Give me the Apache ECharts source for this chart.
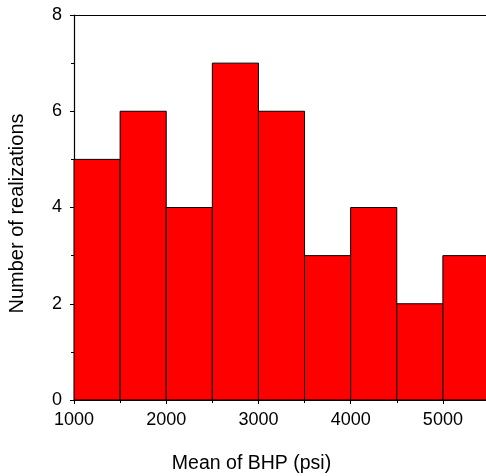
<!DOCTYPE html>
<html>
<head>
<meta charset="utf-8">
<script src="https://cdn.jsdelivr.net/npm/echarts@6/dist/echarts.min.js"></script>
<style>
  html, body { margin: 0; padding: 0; background: #fff; }
  #chart { width: 486px; height: 476px; }
</style>
</head>
<body>
<div id="chart"></div>
<script>
// Histogram bins (psi) and counts
const binStarts = [1000, 1500, 2000, 2500, 3000, 3500, 4000, 4500, 5000];
const binWidth = 500;
const counts = [5, 6, 4, 7, 6, 3, 4, 2, 3];
const xTicks = [1000, 2000, 3000, 4000, 5000];
const yTicks = [0, 2, 4, 6, 8];

const font = 'Liberation Sans, Arial, sans-serif';
const chart = echarts.init(document.getElementById('chart'));

const data = binStarts.map((s, i) => [s, s + binWidth, counts[i]]);

chart.setOption({
  animation: false,
  grid: { left: 74, right: -3, top: 15, bottom: 76, outerBoundsMode: 'none', containLabel: false },
  xAxis: [{
    type: 'value',
    min: 1000,
    max: 5500,
    interval: 1000,
    axisLine: { lineStyle: { color: '#000', width: 1.2 } },
    axisTick: { show: true, length: 4, lineStyle: { color: '#000' } },
    minorTick: { show: true, splitNumber: 2, length: 3, lineStyle: { color: '#000' } },
    splitLine: { show: false },
    axisLabel: {
      color: '#000', fontFamily: font, fontSize: 18, margin: 11,
      formatter: v => (xTicks.includes(v) ? String(v) : '')
    },
    name: 'Mean of BHP (psi)',
    nameLocation: 'middle',
    nameGap: 54,
    nameTextStyle: { color: '#000', fontFamily: font, fontSize: 19.5, padding: [0, 60, 0, 0] }
  }, {
    type: 'value',
    position: 'top',
    min: 1000,
    max: 5500,
    axisLine: { show: true, lineStyle: { color: '#000', width: 1.2 } },
    axisTick: { show: false },
    axisLabel: { show: false },
    splitLine: { show: false }
  }],
  yAxis: {
    type: 'value',
    min: 0,
    max: 8,
    interval: 2,
    axisLine: { show: true, lineStyle: { color: '#000', width: 1.2 } },
    axisTick: { show: true, length: 4, lineStyle: { color: '#000' } },
    minorTick: { show: true, splitNumber: 2, length: 3, lineStyle: { color: '#000' } },
    splitLine: { show: false },
    axisLabel: {
      color: '#000', fontFamily: font, fontSize: 18, margin: 12,
      formatter: v => (yTicks.includes(v) ? String(v) : '')
    },
    name: 'Number of realizations',
    nameLocation: 'middle',
    nameGap: 47,
    nameTextStyle: { color: '#000', fontFamily: font, fontSize: 20, padding: [0, 12, 0, 0] }
  },
  series: [{
    type: 'custom',
    xAxisIndex: 0,
    data: data,
    renderItem: function (params, api) {
      const p0 = api.coord([api.value(0), api.value(2)]);
      const p1 = api.coord([api.value(1), 0]);
      return {
        type: 'rect',
        shape: { x: p0[0], y: p0[1], width: p1[0] - p0[0], height: p1[1] - p0[1] },
        style: { fill: '#ff0000', stroke: '#000', lineWidth: 1 }
      };
    },
    encode: { x: [0, 1], y: 2 }
  }]
});
</script>
</body>
</html>
